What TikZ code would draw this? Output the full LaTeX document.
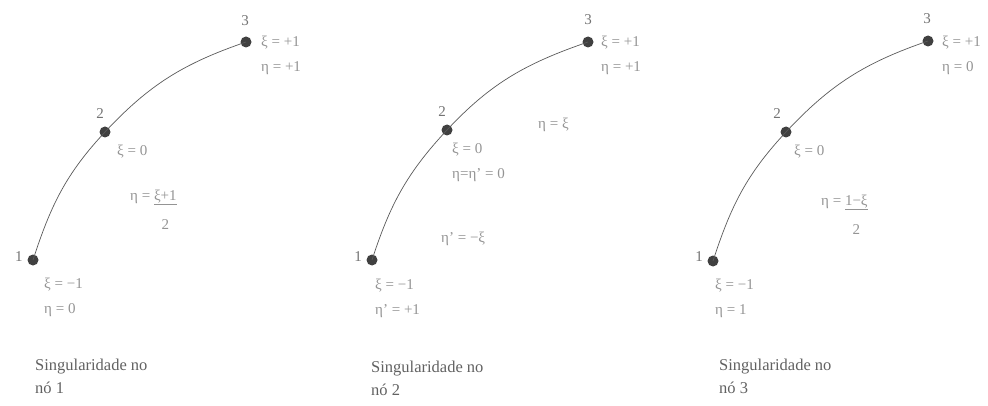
\documentclass[tikz,border=0pt]{standalone}
\usepackage{fontspec}
\setmainfont{Liberation Serif}
\begin{document}
\begin{tikzpicture}[x=1pt,y=1pt,
  dot/.style={circle,fill=black!75,inner sep=0pt,minimum size=11pt},
  curve/.style={draw=black!65,line width=0.7pt},
  num/.style={text=black!55,font=\fontsize{15}{16}\selectfont,inner sep=1pt},
  lbl/.style={text=black!42,font=\fontsize{15}{25}\selectfont,inner sep=1pt,anchor=west,align=left},
  capt/.style={text=black!62,font=\fontsize{16.5}{23}\selectfont,inner sep=1pt,anchor=north west,align=left}]
\useasboundingbox (0,0) rectangle (988,405);
% ---------- panel 1 ----------
\node[dot] (a1) at (33,145) {};
\node[dot] (a2) at (105,273) {};
\node[dot] (a3) at (246,363) {};
\draw[curve] (a1.center) to[out=72,in=-133] (a2.center) to[out=47,in=199] (a3.center);
\node[num] (a1n) at (19,148) {1};
\node[num] (a2n) at (100,291) {2};
\node[num] (a3n) at (245,384) {3};
\node[lbl] (a3l) at (260,350) {ξ = +1\\η = +1};
\node[lbl] (a2l) at (116,253) {ξ = 0};
\node[lbl] (af) at (129,195) {η = \begin{tabular}[t]{@{}c@{}}\underline{ξ+1}\\[4pt]2\end{tabular}};
\node[lbl] (a1l) at (43,108) {ξ = −1\\η = 0};
\node[capt] (acap) at (34,47) {Singularidade no\\nó 1};
% ---------- panel 2 ----------
\node[dot] (b1) at (372,145) {};
\node[dot] (b2) at (447,275) {};
\node[dot] (b3) at (588,363) {};
\draw[curve] (b1.center) to[out=72,in=-133] (b2.center) to[out=47,in=199] (b3.center);
\node[num] (b1n) at (358,148) {1};
\node[num] (b2n) at (442,293) {2};
\node[num] (b3n) at (588,385) {3};
\node[lbl] (b3l) at (600,350) {ξ = +1\\η = +1};
\node[lbl] (bm) at (537,280) {η = ξ};
\node[lbl] (b2l) at (451,243) {ξ = 0\\η=η' = 0};
\node[lbl] (bp) at (440,166) {η' = −ξ};
\node[lbl] (b1l) at (374,107) {ξ = −1\\η' = +1};
\node[capt] (bcap) at (370,45) {Singularidade no\\nó 2};
% ---------- panel 3 ----------
\node[dot] (c1) at (713,144) {};
\node[dot] (c2) at (786,273) {};
\node[dot] (c3) at (928,364) {};
\draw[curve] (c1.center) to[out=72,in=-133] (c2.center) to[out=47,in=199] (c3.center);
\node[num] (c1n) at (699,148) {1};
\node[num] (c2n) at (777,291) {2};
\node[num] (c3n) at (927,386) {3};
\node[lbl] (c3l) at (941,350) {ξ = +1\\η = 0};
\node[lbl] (c2l) at (793,253) {ξ = 0};
\node[lbl] (cf) at (820,190) {η = \begin{tabular}[t]{@{}c@{}}\underline{1−ξ}\\[4pt]2\end{tabular}};
\node[lbl] (c1l) at (714,107) {ξ = −1\\η = 1};
\node[capt] (ccap) at (718,47) {Singularidade no\\nó 3};
\end{tikzpicture}
\end{document}
